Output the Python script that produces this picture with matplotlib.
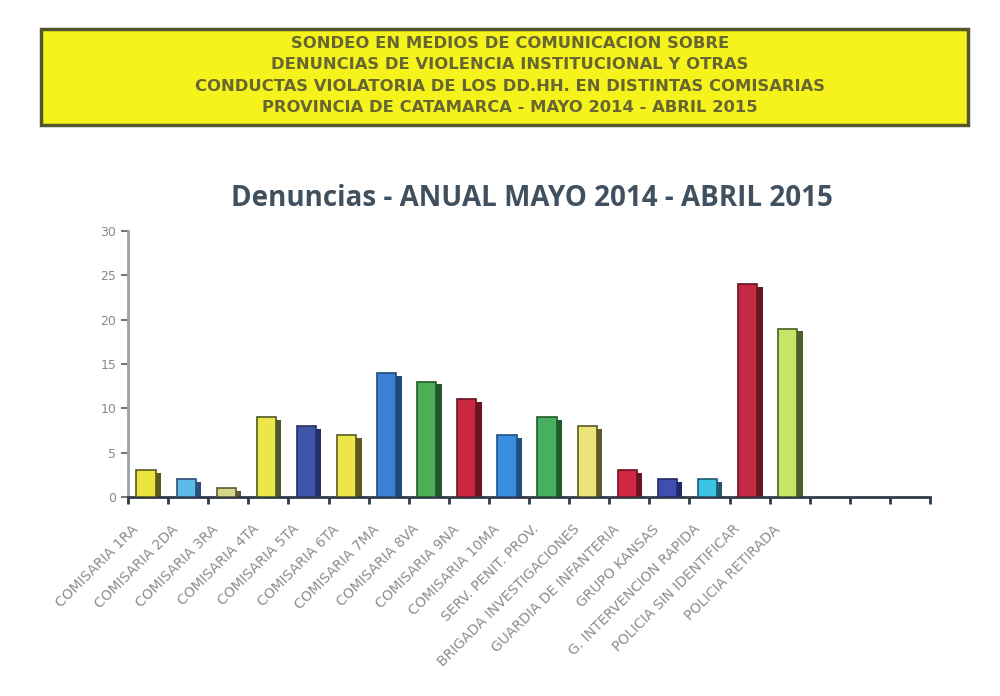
import matplotlib
matplotlib.use("Agg")
import matplotlib.pyplot as plt
import numpy as np
from matplotlib.patches import Rectangle

categories = [
    "COMISARIA 1RA", "COMISARIA 2DA", "COMISARIA 3RA", "COMISARIA 4TA",
    "COMISARIA 5TA", "COMISARIA 6TA", "COMISARIA 7MA", "COMISARIA 8VA",
    "COMISARIA 9NA", "COMISARIA 10MA", "SERV. PENIT. PROV.",
    "BRIGADA INVESTIGACIONES", "GUARDIA DE INFANTERIA", "GRUPO KANSAS",
    "G. INTERVENCION RAPIDA", "POLICIA SIN IDENTIFICAR", "POLICIA RETIRADA",
]
values = [3, 2, 1, 9, 8, 7, 14, 13, 11, 7, 9, 8, 3, 2, 2, 24, 19]
bar_colors = [
    "#e8e43c", "#5cbce8", "#d6d68a", "#ece64a", "#3f55a8", "#ece64a",
    "#3c7fd4", "#4caf58", "#c8283e", "#3a8ee2", "#46b060", "#ece478",
    "#d02840", "#3f4fb0", "#3cc4e4", "#c42a44", "#c8e464",
]
side_colors = [
    "#5a5a20", "#2a4f7a", "#5a5a30", "#4a5a28", "#23306a", "#5a5a20",
    "#1f4a80", "#1f5a2a", "#6a1420", "#1f4f80", "#205a2a", "#5a5a28",
    "#6a1420", "#22286a", "#1f5a70", "#6a1420", "#4a6028",
]
n_slots = 20

header_lines = [
    "SONDEO EN MEDIOS DE COMUNICACION SOBRE",
    "DENUNCIAS DE VIOLENCIA INSTITUCIONAL Y OTRAS",
    "CONDUCTAS VIOLATORIA DE LOS DD.HH. EN DISTINTAS COMISARIAS",
    "PROVINCIA DE CATAMARCA - MAYO 2014 - ABRIL 2015",
]
title = "Denuncias - ANUAL MAYO 2014 - ABRIL 2015"

fig = plt.figure(figsize=(10, 6.96), dpi=100)
fig.patch.set_facecolor("white")

# yellow header box
fig.patches.append(Rectangle((0.041, 0.820), 0.927, 0.139, transform=fig.transFigure,
                             facecolor="#f6f21c", edgecolor="#55552e", linewidth=2.5))
for i, line in enumerate(header_lines):
    fig.text(0.51, 0.938 - i * 0.031, line, ha="center", va="center",
             fontsize=11.8, fontweight="bold", color="#666630",
             family="DejaVu Sans")

fig.text(0.532, 0.715, title, ha="center", va="center", fontsize=20,
         fontweight="bold", color="#41505e", family="Open Sans")

ax = fig.add_axes([0.128, 0.286, 0.802, 0.382])
x = np.arange(len(values))
ax.bar(x + 0.1, np.array(values) - 0.3, width=0.45, color=side_colors, zorder=2)
ax.bar(x - 0.05, values, width=0.48, color=bar_colors, edgecolor=side_colors,
       linewidth=1.2, zorder=3)

ax.set_xlim(-0.5, n_slots - 0.5)
ax.set_ylim(0, 30)
ax.set_yticks(range(0, 31, 5))
ax.set_xticks(np.arange(-0.5, n_slots, 1.0))
ax.set_xticklabels([])
ax.tick_params(axis="x", length=5, width=2, color="#303a48", direction="out")
ax.tick_params(axis="y", length=5, width=1.5, color="#707880", labelsize=9,
               labelcolor="#8a8a8a")
for i, lab in enumerate(categories):
    ax.text(i - 0.3, -3.4, lab, rotation=45, rotation_mode="anchor",
            ha="right", va="center", fontsize=10, color="#8a8e92")

for s in ["top", "right"]:
    ax.spines[s].set_visible(False)
ax.spines["bottom"].set_color("#303a48")
ax.spines["bottom"].set_linewidth(2)
ax.spines["left"].set_color("#9aa0aa")
ax.spines["left"].set_linewidth(2)

fig.savefig("out.png", dpi=100, facecolor="white")
